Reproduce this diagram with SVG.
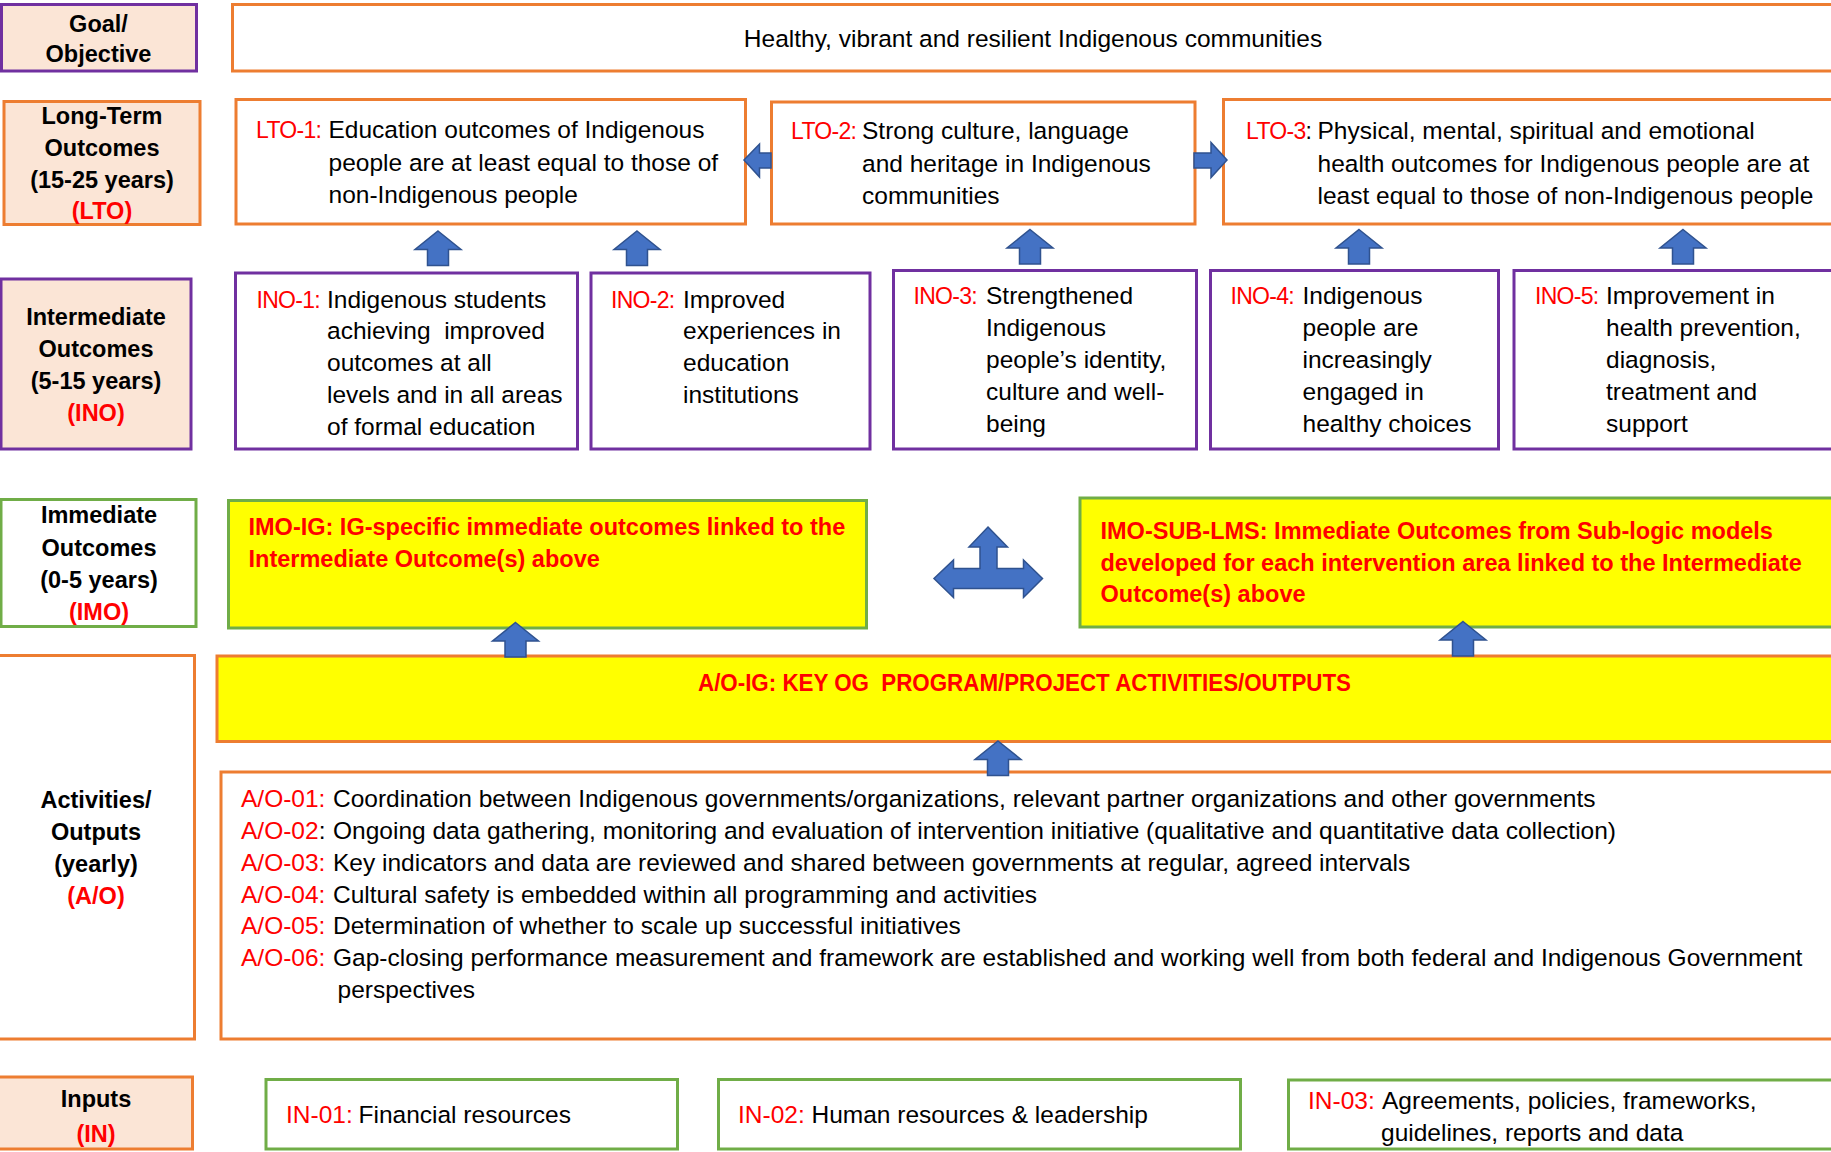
<svg xmlns="http://www.w3.org/2000/svg" xmlns:xlink="http://www.w3.org/1999/xlink" width="1831" height="1152" viewBox="0 0 1831 1152">
<style>
.bx{fill:#ffffff;stroke-width:3}
.o{stroke:#ed7d31}.p{stroke:#7030a0}.g{stroke:#70ad47}
.pe{fill:#fbe5d6}.ye{fill:#ffff00}
text{font-family:"Liberation Sans",Arial,sans-serif;font-size:24.5px;fill:#000000}
.r{fill:#ff0000}
.lt{font-size:23px;letter-spacing:-0.7px}
.it{font-size:23px;letter-spacing:-0.7px}
.lb{font-weight:bold;font-size:23.5px;text-anchor:middle}
.bt{font-weight:bold;font-size:23.5px;fill:#ff0000}
.arr{fill:#4472c4;stroke:#2f528f;stroke-width:1.5;stroke-linejoin:miter}
</style>
<defs>
<path id="up" d="M0,0 L23,18.5 L10.5,18.5 L10.5,34.5 L-10.5,34.5 L-10.5,18.5 L-23,18.5 Z"/>
</defs>
<rect width="1831" height="1152" fill="#ffffff"/>

<!-- Row labels -->
<g id="label-goal">
<rect class="bx p pe" x="1.5" y="4.5" width="195" height="66.5"/>
<text class="lb"><tspan x="98.5" y="31.5">Goal/</tspan><tspan x="98.5" y="62">Objective</tspan></text>
</g>
<g id="label-lto">
<rect class="bx o pe" x="4" y="101.5" width="196" height="123"/>
<text class="lb"><tspan x="102" y="124">Long-Term</tspan><tspan x="102" y="156">Outcomes</tspan><tspan x="102" y="187.5">(15-25 years)</tspan><tspan x="102" y="219" class="r">(LTO)</tspan></text>
</g>
<g id="label-ino">
<rect class="bx p pe" x="1" y="279" width="190" height="170"/>
<text class="lb"><tspan x="96" y="325">Intermediate</tspan><tspan x="96" y="357">Outcomes</tspan><tspan x="96" y="389">(5-15 years)</tspan><tspan x="96" y="421" class="r">(INO)</tspan></text>
</g>
<g id="label-imo">
<rect class="bx g" x="1" y="499.5" width="195" height="127"/>
<text class="lb"><tspan x="99" y="523">Immediate</tspan><tspan x="99" y="555.5">Outcomes</tspan><tspan x="99" y="588">(0-5 years)</tspan><tspan x="99" y="620" class="r">(IMO)</tspan></text>
</g>
<g id="label-ao">
<rect class="bx o" x="-2" y="655.5" width="196.5" height="383.5"/>
<text class="lb"><tspan x="96" y="808">Activities/</tspan><tspan x="96" y="840">Outputs</tspan><tspan x="96" y="872">(yearly)</tspan><tspan x="96" y="904" class="r">(A/O)</tspan></text>
</g>
<g id="label-in">
<rect class="bx o pe" x="-2" y="1077" width="194.5" height="72"/>
<text class="lb"><tspan x="96" y="1107">Inputs</tspan><tspan x="96" y="1142" class="r">(IN)</tspan></text>
</g>

<!-- Goal -->
<g id="goal">
<rect class="bx o" x="232.5" y="4.5" width="1620" height="66.5"/>
<text x="1033" y="47" text-anchor="middle">Healthy, vibrant and resilient Indigenous communities</text>
</g>

<!-- LTO -->
<g id="lto-1">
<rect class="bx o" x="236" y="99.5" width="509.5" height="124.5"/>
<text x="256" y="138" class="r lt">LTO-1:</text>
<text><tspan x="328.5" y="138">Education outcomes of Indigenous</tspan><tspan x="328.5" y="170.5">people are at least equal to those of</tspan><tspan x="328.5" y="203">non-Indigenous people</tspan></text>
</g>
<g id="lto-2">
<rect class="bx o" x="771.5" y="102" width="423.5" height="122"/>
<text x="791" y="139" class="r lt">LTO-2:</text>
<text><tspan x="862" y="139">Strong culture, language</tspan><tspan x="862" y="171.5">and heritage in Indigenous</tspan><tspan x="862" y="204">communities</tspan></text>
</g>
<g id="lto-3">
<rect class="bx o" x="1223.5" y="99.5" width="630" height="124.5"/>
<text x="1246" y="139" class="lt"><tspan class="r">LTO-3</tspan>:</text>
<text><tspan x="1317.5" y="139">Physical, mental, spiritual and emotional</tspan><tspan x="1317.5" y="171.5">health outcomes for Indigenous people are at</tspan><tspan x="1317.5" y="204">least equal to those of non-Indigenous people</tspan></text>
</g>

<!-- INO -->
<g id="ino-1">
<rect class="bx p" x="235.5" y="273" width="342" height="176"/>
<text x="256.5" y="307.5" class="r it">INO-1:</text>
<text xml:space="preserve"><tspan x="327" y="307.5">Indigenous students</tspan><tspan x="327" y="339">achieving  improved</tspan><tspan x="327" y="371">outcomes at all</tspan><tspan x="327" y="403">levels and in all areas</tspan><tspan x="327" y="434.5">of formal education</tspan></text>
</g>
<g id="ino-2">
<rect class="bx p" x="591" y="273" width="279" height="176"/>
<text x="611" y="307.5" class="r it">INO-2:</text>
<text><tspan x="683" y="307.5">Improved</tspan><tspan x="683" y="339">experiences in</tspan><tspan x="683" y="371">education</tspan><tspan x="683" y="403">institutions</tspan></text>
</g>
<g id="ino-3">
<rect class="bx p" x="893.5" y="270.5" width="303" height="178.5"/>
<text x="913.5" y="304" class="r it">INO-3:</text>
<text><tspan x="986" y="304">Strengthened</tspan><tspan x="986" y="336">Indigenous</tspan><tspan x="986" y="368">people’s identity,</tspan><tspan x="986" y="400">culture and well-</tspan><tspan x="986" y="431.5">being</tspan></text>
</g>
<g id="ino-4">
<rect class="bx p" x="1210.5" y="270.5" width="288" height="178.5"/>
<text x="1230.5" y="304" class="r it">INO-4:</text>
<text><tspan x="1302.5" y="304">Indigenous</tspan><tspan x="1302.5" y="336">people are</tspan><tspan x="1302.5" y="368">increasingly</tspan><tspan x="1302.5" y="400">engaged in</tspan><tspan x="1302.5" y="431.5">healthy choices</tspan></text>
</g>
<g id="ino-5">
<rect class="bx p" x="1514" y="270.5" width="340" height="178.5"/>
<text x="1535" y="304" class="r it">INO-5:</text>
<text><tspan x="1606" y="304">Improvement in</tspan><tspan x="1606" y="336">health prevention,</tspan><tspan x="1606" y="368">diagnosis,</tspan><tspan x="1606" y="400">treatment and</tspan><tspan x="1606" y="431.5">support</tspan></text>
</g>

<!-- IMO -->
<g id="imo-ig">
<rect class="bx g ye" x="228.5" y="500.5" width="638" height="127.5"/>
<text class="bt"><tspan x="248.5" y="535">IMO-IG: IG-specific immediate outcomes linked to the</tspan><tspan x="248.5" y="567">Intermediate Outcome(s) above</tspan></text>
</g>
<g id="imo-sub-lms">
<rect class="bx g ye" x="1080" y="498" width="775" height="129"/>
<text class="bt"><tspan x="1100.5" y="539">IMO-SUB-LMS: Immediate Outcomes from Sub-logic models</tspan><tspan x="1100.5" y="570.5">developed for each intervention area linked to the Intermediate</tspan><tspan x="1100.5" y="602">Outcome(s) above</tspan></text>
</g>

<!-- A/O -->
<g id="ao-ig">
<rect class="bx o ye" x="217" y="656" width="1640" height="85.5"/>
<text class="bt" x="1024.5" y="691" text-anchor="middle" xml:space="preserve" textLength="653" lengthAdjust="spacingAndGlyphs">A/O-IG: KEY OG  PROGRAM/PROJECT ACTIVITIES/OUTPUTS</text>
</g>
<g id="ao-list">
<rect class="bx o" x="221" y="772" width="1640" height="267"/>
<text class="r"><tspan x="241" y="807">A/O-01:</tspan><tspan x="241" y="839">A/O-02<tspan style="fill:#000000">:</tspan></tspan><tspan x="241" y="870.5">A/O-03:</tspan><tspan x="241" y="902.5">A/O-04:</tspan><tspan x="241" y="934">A/O-05:</tspan><tspan x="241" y="966">A/O-06:</tspan></text>
<text><tspan x="333" y="807">Coordination between Indigenous governments/organizations, relevant partner organizations and other governments</tspan><tspan x="333" y="839">Ongoing data gathering, monitoring and evaluation of intervention initiative (qualitative and quantitative data collection)</tspan><tspan x="333" y="870.5">Key indicators and data are reviewed and shared between governments at regular, agreed intervals</tspan><tspan x="333" y="902.5">Cultural safety is embedded within all programming and activities</tspan><tspan x="333" y="934">Determination of whether to scale up successful initiatives</tspan><tspan x="333" y="966">Gap-closing performance measurement and framework are established and working well from both federal and Indigenous Government</tspan><tspan x="337.5" y="998">perspectives</tspan></text>
</g>

<!-- Inputs -->
<g id="in-01">
<rect class="bx g" x="266" y="1079.5" width="411.5" height="69.5"/>
<text x="286" y="1123"><tspan class="r">IN-01:</tspan><tspan x="358.5">Financial resources</tspan></text>
</g>
<g id="in-02">
<rect class="bx g" x="718.5" y="1079.5" width="522" height="69.5"/>
<text x="738" y="1123"><tspan class="r">IN-02:</tspan><tspan x="811.5">Human resources &amp; leadership</tspan></text>
</g>
<g id="in-03">
<rect class="bx g" x="1288.5" y="1080" width="570" height="69"/>
<text x="1308" y="1109"><tspan class="r">IN-03:</tspan><tspan x="1382">Agreements, policies, frameworks,</tspan></text>
<text x="1381" y="1141">guidelines, reports and data</text>
</g>

<!-- Connectors -->
<g id="connectors">
<path class="arr" d="M744,160 L759.5,144 L759.5,153 L771,153 L771,168 L759.5,168 L759.5,177 Z"/>
<path class="arr" d="M1227,160 L1211,142.5 L1211,153 L1194,153 L1194,168 L1211,168 L1211,177.5 Z"/>
<use class="arr" xlink:href="#up" href="#up" transform="translate(438,231)"/>
<use class="arr" xlink:href="#up" href="#up" transform="translate(637,231)"/>
<use class="arr" xlink:href="#up" href="#up" transform="translate(1030,229.5)"/>
<use class="arr" xlink:href="#up" href="#up" transform="translate(1359,229.5)"/>
<use class="arr" xlink:href="#up" href="#up" transform="translate(1683,229.5)"/>
<use class="arr" xlink:href="#up" href="#up" transform="translate(515.5,622.5)"/>
<use class="arr" xlink:href="#up" href="#up" transform="translate(1463,621.5)"/>
<use class="arr" xlink:href="#up" href="#up" transform="translate(998,741)"/>
<path class="arr" d="M988,527 L1007.5,547 L997,547 L997,568.5 L1023.5,568.5 L1023.5,560 L1042.5,578.5 L1023.5,597.5 L1023.5,588.5 L953.5,588.5 L953.5,597.5 L934,578.5 L953.5,560 L953.5,568.5 L980,568.5 L980,547 L969,547 Z"/>
</g>
</svg>
